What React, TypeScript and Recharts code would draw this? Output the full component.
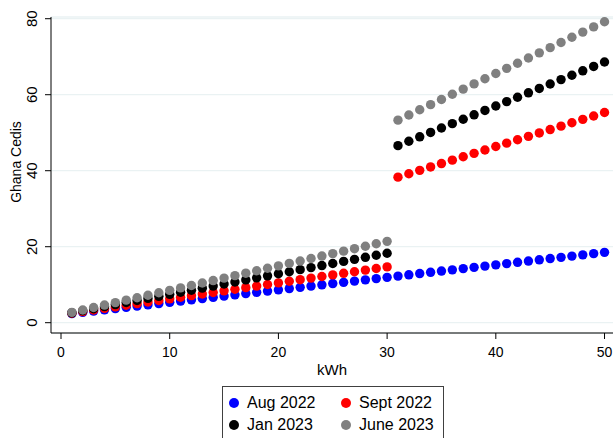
import React from "react";
import {
  ScatterChart, Scatter, XAxis, YAxis, CartesianGrid, Legend,
} from "recharts";

// kWh consumed
const kwh = [
  1, 2, 3, 4, 5, 6, 7, 8, 9, 10, 11, 12, 13, 14, 15, 16, 17, 18, 19, 20, 21, 22, 23, 24, 25,
  26, 27, 28, 29, 30, 31, 32, 33, 34, 35, 36, 37, 38, 39, 40, 41, 42, 43, 44, 45, 46, 47, 48, 49, 50,
];

// bill in Ghana Cedis
const aug2022 = [
  2.40, 2.73, 3.06, 3.39, 3.72, 4.04, 4.37, 4.70, 5.03, 5.36, 5.69, 6.02, 6.35, 6.68, 7.01, 7.33, 7.66,
  7.99, 8.32, 8.65, 8.98, 9.31, 9.64, 9.97, 10.30, 10.62, 10.95, 11.28, 11.61, 11.94, 12.27, 12.60, 12.93,
  13.26, 13.59, 13.91, 14.24, 14.57, 14.90, 15.23, 15.56, 15.89, 16.22, 16.55, 16.88, 17.20, 17.53, 17.86,
  18.19, 18.52,
];
const sept2022 = [
  2.50, 2.92, 3.34, 3.76, 4.18, 4.60, 5.02, 5.44, 5.86, 6.28, 6.70, 7.12, 7.54, 7.96, 8.38, 8.80, 9.22,
  9.64, 10.06, 10.48, 10.90, 11.32, 11.74, 12.16, 12.58, 13.00, 13.42, 13.84, 14.26, 14.68, 38.30, 39.20,
  40.09, 40.99, 41.88, 42.78, 43.67, 44.57, 45.46, 46.36, 47.25, 48.15, 49.04, 49.94, 50.83, 51.73, 52.62,
  53.52, 54.41, 55.31,
];
const jan2023 = [
  2.60, 3.14, 3.68, 4.22, 4.77, 5.31, 5.85, 6.39, 6.93, 7.47, 8.01, 8.55, 9.09, 9.63, 10.18, 10.72, 11.26,
  11.80, 12.34, 12.88, 13.42, 13.96, 14.50, 15.04, 15.59, 16.13, 16.67, 17.21, 17.75, 18.29, 46.60, 47.76,
  48.92, 50.07, 51.23, 52.39, 53.55, 54.71, 55.86, 57.02, 58.18, 59.34, 60.50, 61.65, 62.81, 63.97, 65.13,
  66.29, 67.44, 68.60,
];
const june2023 = [
  2.71, 3.35, 4.00, 4.64, 5.29, 5.93, 6.58, 7.22, 7.87, 8.51, 9.16, 9.80, 10.45, 11.09, 11.74, 12.38, 13.03,
  13.67, 14.32, 14.96, 15.61, 16.25, 16.90, 17.54, 18.19, 18.83, 19.48, 20.12, 20.77, 21.41, 53.30, 54.66,
  56.03, 57.39, 58.75, 60.12, 61.48, 62.84, 64.21, 65.57, 66.93, 68.29, 69.66, 71.02, 72.38, 73.75, 75.11,
  76.47, 77.84, 79.20,
];

const xTicks = [0, 10, 20, 30, 40, 50];
const yTicks = [0, 20, 40, 60, 80];

const FONT = "'Liberation Sans', Arial, sans-serif";

const series = [
  { name: "Aug 2022", color: "#0000ff", values: aug2022 },
  { name: "Sept 2022", color: "#ff0000", values: sept2022 },
  { name: "Jan 2023", color: "#000000", values: jan2023 },
  { name: "June 2023", color: "#808080", values: june2023 },
];

const toPoints = (values: number[]) => kwh.map((k, i) => ({ x: k, y: values[i] }));

const YTick = ({ x, y, payload }: any) => {
  const tx = x - 6;
  return (
    <text
      x={tx}
      y={y}
      transform={`rotate(-90 ${tx} ${y})`}
      textAnchor="middle"
      fontSize={15}
      fontFamily={FONT}
      fill="#000"
    >
      {payload.value}
    </text>
  );
};

const YTitle = ({ viewBox }: any) => {
  const x = viewBox.x + 21;
  const y = viewBox.y + viewBox.height / 2 - 13;
  return (
    <text x={x} y={y} transform={`rotate(-90 ${x} ${y})`} textAnchor="middle"
      fontSize={14} fontFamily={FONT} fill="#000">
      Ghana Cedis
    </text>
  );
};

const XTitle = ({ viewBox }: any) => (
  <text x={viewBox.x + viewBox.width / 2} y={viewBox.y + 42} textAnchor="middle"
    fontSize={15} fontFamily={FONT} fill="#000">
    kWh
  </text>
);

// legend keeps the series order (Aug, Sept / Jan, June)
const LegendBox = () => (
  <div style={{
    border: "1px solid #404040", background: "#fff", width: 222, height: 60,
    boxSizing: "border-box", display: "grid", gridTemplateColumns: "112px 108px",
    gridTemplateRows: "19px 19px", alignContent: "start",
    padding: "6px 0 0 6px", rowGap: 3, fontFamily: FONT, fontSize: 16,
  }}>
    {series.map((s) => (
      <div key={s.name} style={{ display: "flex", alignItems: "center", height: 19, whiteSpace: "nowrap" }}>
        <span style={{
          width: 10, height: 10, borderRadius: 5, background: s.color,
          display: "inline-block", marginRight: 8,
        }} />
        <span>{s.name}</span>
      </div>
    ))}
  </div>
);

export default function App() {
  return (
    <div style={{ position: "absolute", left: 0, top: 0, width: 613, height: 438, overflow: "hidden", background: "#fff" }}>
      <ScatterChart width={613} height={438} margin={{ top: 17, right: 0, left: 0, bottom: 45 }}>
        <CartesianGrid horizontal vertical={false} stroke="#eaf2f3" strokeWidth={1.3} />
        <XAxis
          type="number"
          dataKey="x"
          domain={[-0.92, 50.78]}
          ticks={xTicks}
          allowDataOverflow
          height={60}
          tickSize={6}
          tickMargin={8}
          tick={{ fontSize: 14, fill: "#000", fontFamily: FONT }}
          stroke="#000"
          label={<XTitle />}
        />
        <YAxis
          type="number"
          dataKey="y"
          domain={[-2.71, 80.45]}
          ticks={yTicks}
          allowDataOverflow
          width={51}
          tickSize={6}
          tick={<YTick />}
          stroke="#000"
          label={<YTitle />}
        />
        {series.map((s) => (
          <Scatter
            key={s.name}
            name={s.name}
            data={toPoints(s.values)}
            fill={s.color}
            isAnimationActive={false}
            shape={(p: any) => <circle cx={p.cx} cy={p.cy} r={4.7} fill={s.color} />}
          />
        ))}
        <Legend
          layout="horizontal"
          verticalAlign="middle"
          align="center"
          content={<LegendBox />}
          wrapperStyle={{ position: "absolute", left: 222, top: 386, width: 222, height: 60 }}
        />
      </ScatterChart>
    </div>
  );
}
